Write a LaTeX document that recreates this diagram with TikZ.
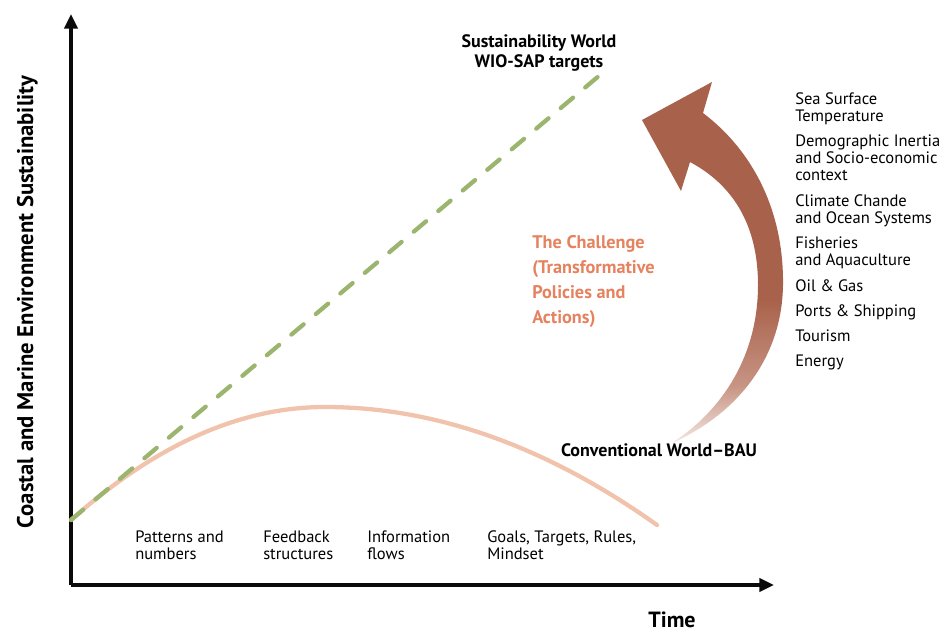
\documentclass[tikz,border=0pt]{standalone}
\usepackage{fontspec}
\setmainfont{PT Sans}
\usetikzlibrary{arrows.meta}
\definecolor{axisblack}{HTML}{0A0A0A}
\definecolor{sustgreen}{HTML}{9BB56F}
\definecolor{bauorange}{HTML}{F2C3AC}
\definecolor{challenge}{HTML}{E5825F}
\definecolor{arrowbrown}{HTML}{A8614A}
\definecolor{arrowmid}{HTML}{C79483}
\definecolor{arrowlight}{HTML}{F4E6DF}
\pgfdeclareverticalshading{arrowshade}{100bp}{color(0bp)=(arrowlight); color(25bp)=(arrowlight); color(33bp)=(arrowmid); color(45bp)=(arrowbrown); color(100bp)=(arrowbrown)}
\tikzset{
  axisline/.style={line width=2.4pt, draw=axisblack, -{Triangle[width=10pt,length=11pt]}},
  label/.style={inner sep=0pt, anchor=base west, align=left, font=\fontsize{12.4}{12.75}\selectfont, text=black},
  boldlabel/.style={inner sep=0pt, anchor=base, align=center, font=\fontsize{13.5}{15}\selectfont\bfseries, text=black},
}
\begin{document}
\begin{tikzpicture}[x=0.75pt, y=-0.75pt]
\path[use as bounding box, fill=white] (0,0) rectangle (947,632);
% axes
\coordinate (origin) at (71,585);
\coordinate (ytip) at (71,14);
\coordinate (xtip) at (774,585);
\draw[axisline] (origin) -- (ytip);
\draw[axisline] (origin) -- (xtip);
% curves
\coordinate (start) at (71,520);
\coordinate (peak) at (325,407);
\coordinate (bauend) at (657,525);
\coordinate (sustend) at (600,75);
\draw[bauorange, line width=3.2pt, line cap=round] (start) .. controls (155.7,444.7) and (240.3,407) .. (peak) .. controls (435.7,407) and (546.3,446.3) .. (bauend);
\draw[sustgreen, line width=3.2pt, line cap=round, dash pattern=on 12pt off 12pt] (start) -- (sustend);
% big curved arrow
\path[shading=arrowshade] (642,120) -- (712,82) -- (703,113) .. controls (752,150) and (784,210) .. (783,285) .. controls (782,360) and (735,415) .. (672,443) .. controls (723,410) and (758,355) .. (758,285) .. controls (758,225) and (733,185) .. (690,162) -- (681,191) -- cycle;
% titles
\node[boldlabel] (sust) at (539,67) {Sustainability World\\WIO-SAP targets};
\node[boldlabel] (bau) at (659,456) {Conventional World--BAU};
\node[inner sep=0pt, anchor=base west, align=left, font=\fontsize{13.7}{18.75}\selectfont\bfseries, text=challenge] (chal) at (532,323) {The Challenge\\(Transformative\\Policies and\\Actions)};
% right list
\node[label] (i1) at (795,121) {Sea Surface\\Temperature};
\node[label] (i2) at (795,180) {Demographic Inertia\\and Socio-economic\\context};
\node[label] (i3) at (795,223) {Climate Chande\\and Ocean Systems};
\node[label] (i4) at (795,265) {Fisheries\\and Aquaculture};
\node[label] (i5) at (795,291) {Oil \& Gas};
\node[label] (i6) at (795,316) {Ports \& Shipping};
\node[label] (i7) at (795,341) {Tourism};
\node[label] (i8) at (795,366) {Energy};
% bottom labels
\node[label] (b1) at (135,559) {Patterns and\\numbers};
\node[label] (b2) at (263,559) {Feedback\\structures};
\node[label] (b3) at (367,559) {Information\\flows};
\node[label] (b4) at (487,559) {Goals, Targets, Rules,\\Mindset};
% axis labels
\node[inner sep=0pt, anchor=base, rotate=90, font=\fontsize{17}{19}\selectfont\bfseries] (ylab) at (33,302) {Coastal and Marine Environment Sustainability};
\node[inner sep=0pt, anchor=base, font=\fontsize{16.5}{19}\selectfont\bfseries] (xlab) at (672,627) {Time};
\end{tikzpicture}
\end{document}
